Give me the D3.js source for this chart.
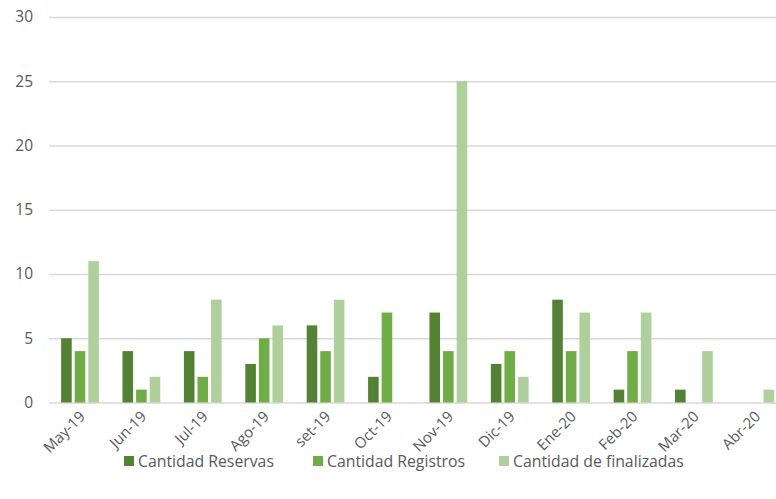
<!DOCTYPE html>
<html>
<head>
<meta charset="utf-8">
<script src="https://cdn.jsdelivr.net/npm/d3@7"></script>
<style>
  body { margin: 0; background: #fff; }
  svg text { font-family: "Open Sans", sans-serif; fill: #595959; }
</style>
</head>
<body>
<svg id="chart"></svg>
<script>
const months = ['May-19', 'Jun-19', 'Jul-19', 'Ago-19', 'set-19', 'Oct-19',
  'Nov-19', 'Dic-19', 'Ene-20', 'Feb-20', 'Mar-20', 'Abr-20'];
const seriesNames = ['Cantidad Reservas', 'Cantidad Registros', 'Cantidad de finalizadas'];
const reservas = [5, 4, 4, 3, 6, 2, 7, 3, 8, 1, 1, 0];
const registros = [4, 1, 2, 5, 4, 7, 4, 4, 4, 4, 0, 0];
const finalizadas = [11, 2, 8, 6, 8, 0, 25, 2, 7, 7, 4, 1];
const yTicks = [0, 5, 10, 15, 20, 25, 30];
const colors = ['#548235', '#70ad47', '#afd09d'];

const seriesValues = [reservas, registros, finalizadas];
const width = 776, height = 499;

const $svg = d3.select('#chart').attr('width', width).attr('height', height);

// scales
const scaleX = d3.scaleBand()
  .domain(months)
  .range([49.3, 786])
  .padding(0);

const scaleSeries = d3.scaleBand()
  .domain(seriesNames)
  .range([0, scaleX.bandwidth()])
  .paddingInner(0.22)
  .paddingOuter(0.87);

const scaleY = d3.scaleLinear()
  .domain([0, 30])
  .range([402.5, 17]);

// gridlines + y labels
const $yAxis = $svg.append('g')
  .attr('transform', 'translate(49,0)')
  .call(d3.axisLeft(scaleY).tickValues(yTicks).tickSize(-(width - 49)).tickPadding(16));
$yAxis.select('.domain').remove();
$yAxis.selectAll('.tick line').attr('stroke', '#d9d9d9').attr('stroke-width', 1.3);
$yAxis.selectAll('.tick text').style('font-size', '15.5px');

// bars
const $groups = $svg.append('g').selectAll('g')
  .data(seriesNames)
  .enter()
  .append('g')
  .attr('fill', (d, i) => colors[i]);

$groups.selectAll('rect')
  .data((name, si) => seriesValues[si].map((v, i) => ({ name, month: months[i], value: v })))
  .enter()
  .append('rect')
  .filter(d => d.value > 0)
  .attr('x', d => scaleX(d.month) + scaleSeries(d.name))
  .attr('y', d => scaleY(d.value))
  .attr('width', scaleSeries.bandwidth())
  .attr('height', d => scaleY(0) - scaleY(d.value));

// x labels
const $xAxis = $svg.append('g')
  .attr('transform', 'translate(0,' + scaleY(0) + ')')
  .call(d3.axisBottom(scaleX).tickSize(0).tickPadding(0));
$xAxis.select('.domain').remove();
$xAxis.selectAll('.tick text')
  .style('font-size', '15px')
  .attr('text-anchor', 'end')
  .attr('dy', 0)
  .attr('transform', 'translate(6,15) rotate(-45)');

// legend
const legendX = [124, 313, 499];
const $legend = $svg.append('g').attr('transform', 'translate(0,461)');
const $items = $legend.selectAll('g')
  .data(seriesNames)
  .enter()
  .append('g')
  .attr('transform', (d, i) => 'translate(' + legendX[i] + ',0)');
$items.append('rect')
  .attr('x', 0).attr('y', -5)
  .attr('width', 10).attr('height', 10)
  .attr('fill', (d, i) => colors[i]);
$items.append('text')
  .attr('x', 14)
  .attr('dy', '0.35em')
  .style('font-size', '15.8px')
  .text(d => d);
</script>
</body>
</html>
